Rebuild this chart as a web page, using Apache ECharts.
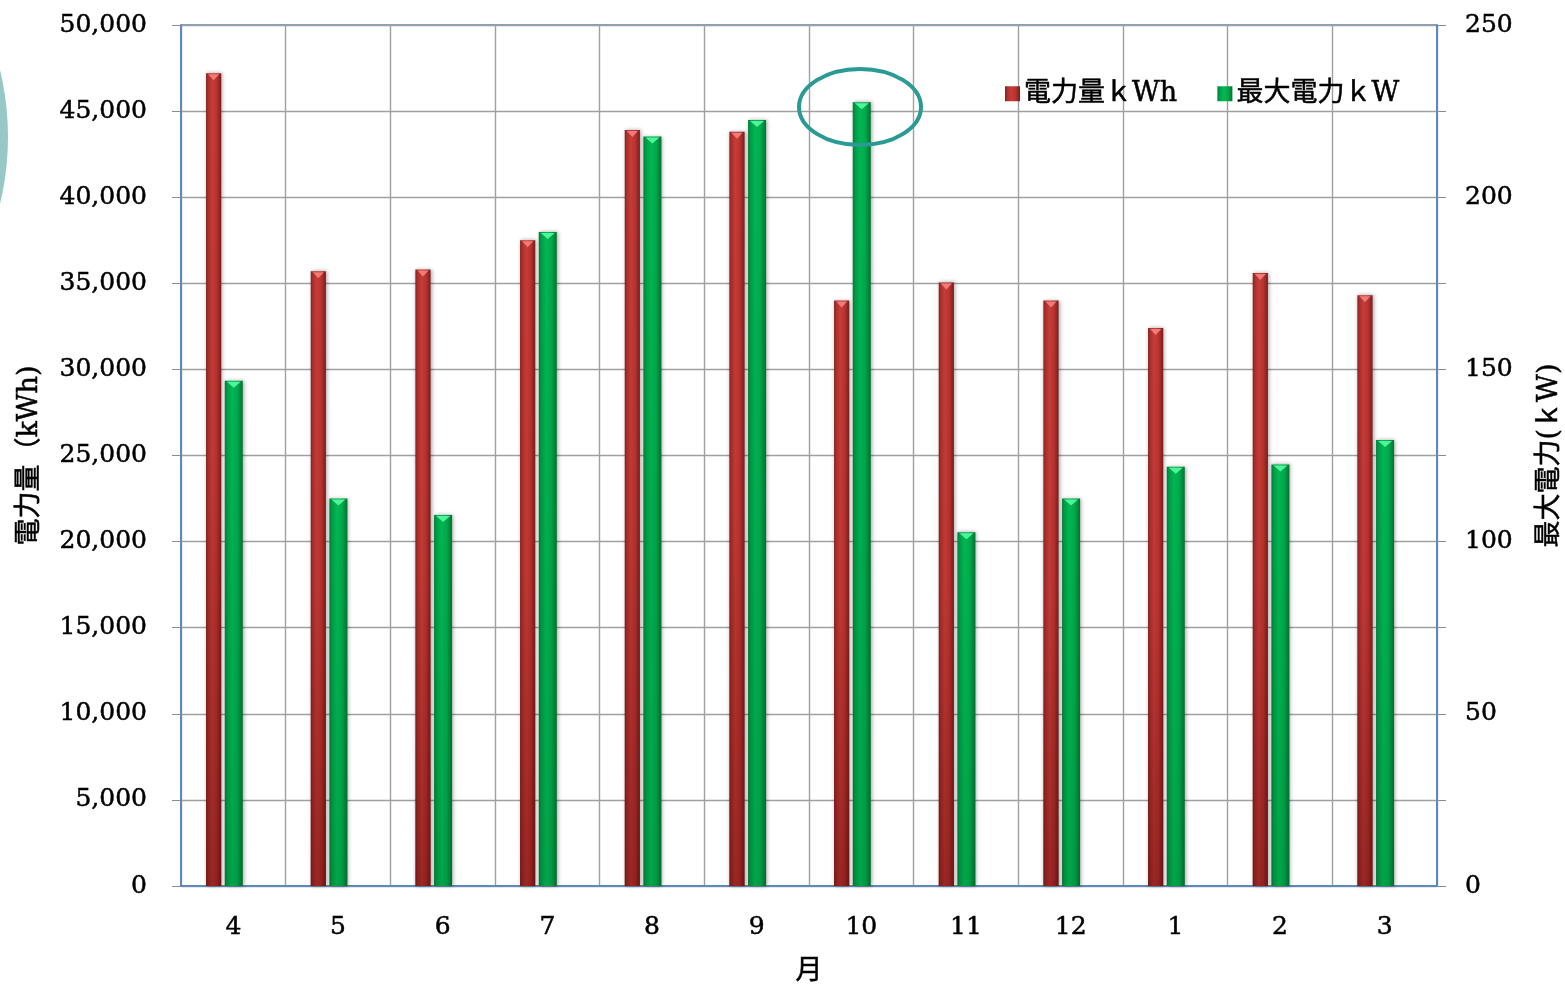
<!DOCTYPE html>
<html>
<head>
<meta charset="utf-8">
<script src="https://cdn.jsdelivr.net/npm/echarts@6/dist/echarts.min.js"></script>
<style>
  html, body { margin: 0; padding: 0; background: #fff; }
  #chart { width: 1565px; height: 984px; }
</style>
</head>
<body>
<div id="chart"></div>
<script>
// Monthly electricity use (kWh) and monthly peak demand (kW), fiscal year April–March
const months = ['4', '5', '6', '7', '8', '9', '10', '11', '12', '1', '2', '3'];
const energyKWh = [47200, 35700, 35800, 37500, 43900, 43800, 34000, 35050, 34000, 32400, 35600, 34300];
const peakKW = [146.7, 112.5, 107.7, 189.9, 217.6, 222.4, 227.6, 102.7, 112.5, 121.7, 122.4, 129.5];
const leftTicks = [0, 5000, 10000, 15000, 20000, 25000, 30000, 35000, 40000, 45000, 50000];
const rightTicks = [0, 50, 100, 150, 200, 250];

const energyName = '電力量ｋWh';
const peakName = '最大電力ｋW';

const FONT = "'DejaVu Serif', 'Noto Sans CJK JP', serif";

function hGrad(stops) {
  return { type: 'linear', x: 0, y: 0, x2: 1, y2: 0,
    colorStops: stops.map(([o, c]) => ({ offset: o, color: c })) };
}
function vGrad(stops) {
  return { type: 'linear', x: 0, y: 0, x2: 0, y2: 1,
    colorStops: stops.map(([o, c]) => ({ offset: o, color: c })) };
}

const redFill = hGrad([[0, '#7e1f1c'], [0.12, '#a82e2b'], [0.4, '#c63c38'], [0.7, '#b8332f'], [1, '#7a1d1b']]);
const redShade = vGrad([[0, 'rgba(70,0,0,0)'], [0.5, 'rgba(70,0,0,0.05)'], [1, 'rgba(70,0,0,0.35)']]);
const greenFill = hGrad([[0, '#007a34'], [0.12, '#009a45'], [0.4, '#00b753'], [0.7, '#00a94c'], [1, '#00732f']]);
const greenShade = vGrad([[0, 'rgba(0,40,10,0)'], [1, 'rgba(0,40,10,0.12)']]);

// Bevelled bar: side-lit body plus a small light triangle cap on top.
function bevelBar(offsetFrac, widthFrac, body, shade, cap) {
  return function (params, api) {
    const idx = api.value(0);
    const val = api.value(1);
    const top = api.coord([idx, val]);
    const base = api.coord([idx, 0]);
    const band = api.size([1, 0])[0];
    const w = band * widthFrac;
    const cx = top[0] + band * offsetFrac;
    const x = cx - w / 2;
    const h = base[1] - top[1];
    return {
      type: 'group',
      children: [
        { type: 'rect', shape: { x: x, y: top[1], width: w, height: h },
          style: { fill: body, shadowBlur: 4, shadowColor: 'rgba(0,0,0,0.35)', shadowOffsetX: 1 } },
        { type: 'rect', shape: { x: x, y: top[1], width: w, height: h },
          style: { fill: shade } },
        { type: 'polygon',
          shape: { points: [[x + 2, top[1] + 1], [x + w - 2, top[1] + 1], [cx, top[1] + 7]] },
          style: { fill: cap } }
      ]
    };
  };
}

const chart = echarts.init(document.getElementById('chart'), null, { renderer: 'canvas' });

// heavier serif text: a thin outline in the text colour thickens the strokes
const ink = { color: '#000', textBorderColor: '#000', textBorderWidth: 0.5 };
const tickLabel = Object.assign({ fontFamily: FONT, fontSize: 25 }, ink);
const nameStyle = Object.assign({ fontFamily: FONT, fontSize: 27 }, ink);

chart.setOption({
  backgroundColor: '#fff',
  animation: false,
  textStyle: { fontFamily: FONT },
  grid: {
    left: 181, right: 128, top: 25, bottom: 98,
    outerBoundsMode: 'none',
    containLabel: false,
    show: true, borderColor: '#4f81bd', borderWidth: 1.5
  },
  legend: {
    left: 1000, top: 75,
    itemWidth: 15, itemHeight: 15, itemGap: 40,
    icon: 'rect',
    textStyle: Object.assign({ fontFamily: FONT, fontSize: 27, padding: [0, 0, 0, -1] }, ink),
    data: [
      { name: energyName, itemStyle: { color: redFill } },
      { name: peakName, itemStyle: { color: greenFill } }
    ]
  },
  xAxis: {
    type: 'category',
    data: months,
    boundaryGap: true,
    name: '月',
    nameLocation: 'middle',
    nameGap: 72,
    nameTextStyle: nameStyle,
    axisLine: { lineStyle: { color: '#4f81bd', width: 1.5 } },
    axisTick: { show: false },
    axisLabel: Object.assign({ margin: 29, interval: 0 }, tickLabel),
    splitLine: { show: true, interval: 0, lineStyle: { color: '#a0a0a0', width: 1.4 } }
  },
  yAxis: [
    {
      type: 'value',
      min: leftTicks[0], max: leftTicks[leftTicks.length - 1], interval: leftTicks[1] - leftTicks[0],
      name: '電力量（kWh)',
      nameLocation: 'middle',
      nameGap: 138,
      nameRotate: 90,
      nameTextStyle: nameStyle,
      axisLine: { show: true, lineStyle: { color: '#4f81bd', width: 1.5 } },
      axisTick: { show: true, length: 9, lineStyle: { color: '#8c8c8c' } },
      axisLabel: Object.assign({ margin: 34,
        formatter: v => v.toLocaleString('en-US') }, tickLabel),
      splitLine: { show: true, lineStyle: { color: '#a0a0a0', width: 1.4 } }
    },
    {
      type: 'value',
      min: rightTicks[0], max: rightTicks[rightTicks.length - 1], interval: 25,
      name: '最大電力(ｋW)',
      nameLocation: 'middle',
      nameGap: 99,
      nameRotate: 90,
      nameTextStyle: nameStyle,
      axisLine: { show: true, lineStyle: { color: '#4f81bd', width: 1.5 } },
      axisTick: { show: true, length: 9, lineStyle: { color: '#8c8c8c' } },
      axisLabel: Object.assign({ margin: 28,
        formatter: v => (rightTicks.indexOf(v) >= 0 ? String(v) : '') }, tickLabel),
      splitLine: { show: false }
    }
  ],
  series: [
    {
      name: energyName,
      type: 'custom',
      xAxisIndex: 0, yAxisIndex: 0,
      itemStyle: { color: redFill },
      renderItem: bevelBar(-0.188, 0.145, redFill, redShade, '#f07a76'),
      encode: { x: 0, y: 1 },
      data: energyKWh.map((v, i) => [i, v]),
      z: 3
    },
    {
      name: peakName,
      type: 'custom',
      xAxisIndex: 0, yAxisIndex: 1,
      itemStyle: { color: greenFill },
      renderItem: bevelBar(0.004, 0.172, greenFill, greenShade, '#4cf59a'),
      encode: { x: 0, y: 1 },
      data: peakKW.map((v, i) => [i, v]),
      z: 3
    }
  ],
  graphic: [
    { type: 'circle', shape: { cx: -277, cy: 137, r: 285 },
      style: { fill: '#97c8c8' }, z: 10 },
    { type: 'ellipse', shape: { cx: 860, cy: 107, rx: 61, ry: 38 },
      style: { fill: 'none', stroke: '#2a9a94', lineWidth: 4 }, z: 10 }
  ]
});
</script>
</body>
</html>
